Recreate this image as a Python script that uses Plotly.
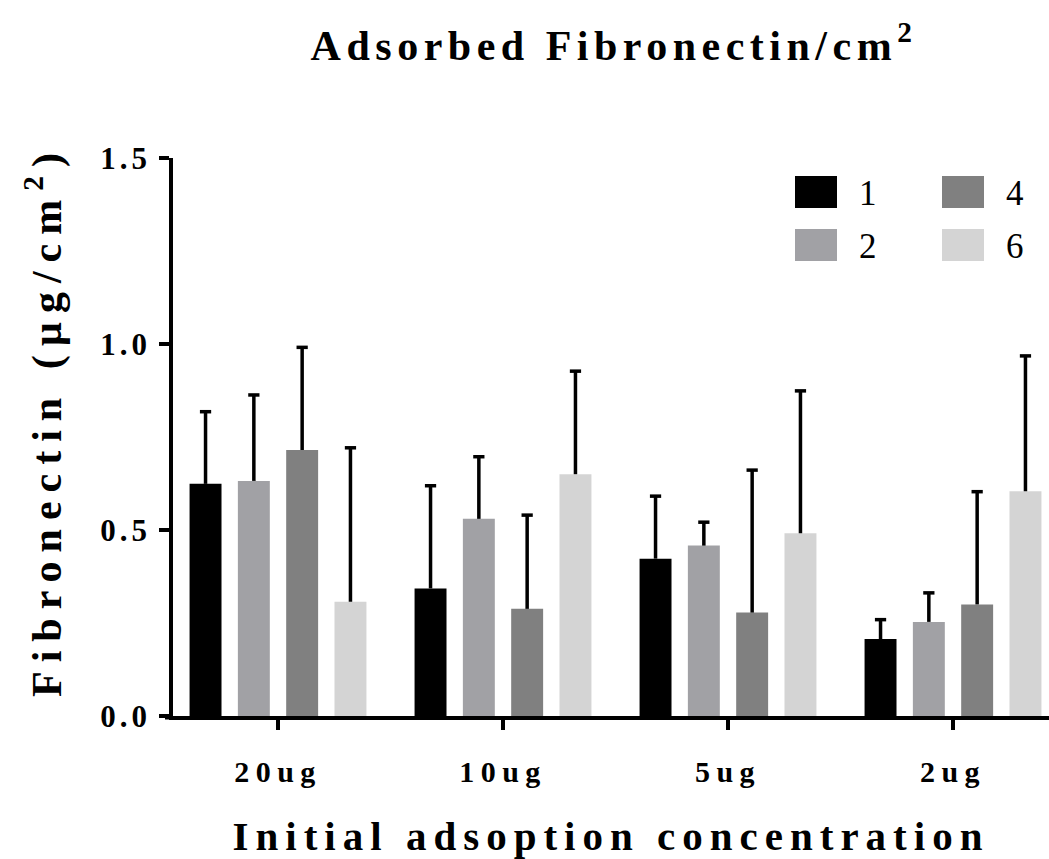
import plotly.graph_objects as go

# ---- data -------------------------------------------------------------
categories = ["20ug", "10ug", "5ug", "2ug"]
series_names = ["1", "2", "4", "6"]

mean_1 = [0.624, 0.343, 0.423, 0.207]
mean_2 = [0.632, 0.530, 0.458, 0.253]
mean_4 = [0.715, 0.288, 0.278, 0.300]
mean_6 = [0.307, 0.650, 0.491, 0.604]

sd_1 = [0.194, 0.276, 0.168, 0.052]
sd_2 = [0.231, 0.167, 0.063, 0.078]
sd_4 = [0.276, 0.252, 0.383, 0.303]
sd_6 = [0.414, 0.277, 0.383, 0.364]

y_ticks = [0.0, 0.5, 1.0, 1.5]

# ---- styling ----------------------------------------------------------
colors = ["#000000", "#a1a1a5", "#808080", "#d4d4d4"]
means = [mean_1, mean_2, mean_4, mean_6]
sds = [sd_1, sd_2, sd_4, sd_6]

W, H = 1049, 859
ML, MR, MT, MB = 173, 0, 158, 143
PW, PH = W - ML - MR, H - MT - MB

FONT = "'Liberation Serif', 'Times New Roman', Tinos, 'DejaVu Serif', serif"
bar_step = 0.2147      # distance between neighbouring bars in a group
bar_width = 0.142
cap_half = 0.025
err_lw = 3.5

x_idx = list(range(len(categories)))

fig = go.Figure()

for i, (name, m, s, c) in enumerate(zip(series_names, means, sds, colors)):
    shift = (i - 1.5) * bar_step
    fig.add_trace(go.Bar(
        x=x_idx, y=m, name=name,
        width=bar_width, offset=shift - bar_width / 2,
        marker=dict(color=c, line=dict(width=0)),
        showlegend=False,
    ))

# one-sided (upper) SD whiskers
for i, (m, s) in enumerate(zip(means, sds)):
    shift = (i - 1.5) * bar_step
    xs, ys = [], []
    for j, (v, e) in enumerate(zip(m, s)):
        xc = x_idx[j] + shift
        xs += [xc, xc, None, xc - cap_half, xc + cap_half, None]
        ys += [v, v + e, None, v + e, v + e, None]
    fig.add_trace(go.Scatter(
        x=xs, y=ys, mode="lines",
        line=dict(color="black", width=err_lw),
        hoverinfo="skip", showlegend=False,
    ))


def px2x(px):
    return (px - ML) / PW


def py2y(py):
    return (H - MB - py) / PH


shapes = [
    # short stub of the x axis left of the y axis
    dict(type="line", xref="paper", yref="paper",
         x0=px2x(165), x1=0, y0=py2y(717.75), y1=py2y(717.75),
         line=dict(color="black", width=err_lw)),
]
annotations = []

# legend drawn as swatches and labels in a 2x2 block
leg_cols = [795, 942]
leg_rows = [176, 229]
sw_w, sw_h = 42, 32
for k, (name, c) in enumerate(zip(series_names, colors)):
    col, row = k // 2, k % 2
    x0 = leg_cols[col]
    y0 = leg_rows[row]
    shapes.append(dict(type="rect", xref="paper", yref="paper",
                       x0=px2x(x0), x1=px2x(x0 + sw_w),
                       y0=py2y(y0 + sw_h), y1=py2y(y0),
                       fillcolor=c, line=dict(width=0)))
    annotations.append(dict(xref="paper", yref="paper",
                            x=px2x(x0 + sw_w + 20), y=py2y(y0 + sw_h / 2 + 1),
                            text=name, showarrow=False,
                            xanchor="left", yanchor="middle",
                            font=dict(family=FONT, size=35, color="black")))

# y-axis title (annotation index 4)
annotations.append(dict(xref="paper", yref="paper",
                        x=px2x(44), y=py2y(421),
                        text="Fibronectin (µg/cm<sup>2</sup>)",
                        textangle=-90, showarrow=False,
                        xanchor="center", yanchor="middle",
                        font=dict(family=FONT, size=42, weight="bold",
                                  color="black")))

fig.update_layout(
    width=W, height=H,
    margin=dict(l=ML, r=MR, t=MT, b=MB, pad=0),
    paper_bgcolor="white", plot_bgcolor="white",
    barmode="overlay",
    font=dict(family=FONT, color="black"),
    title=dict(
        text="Adsorbed Fibronectin/cm<sup>2</sup>",
        x=614 / W, xref="container", xanchor="center",
        y=1 - 45 / H, yref="container", yanchor="middle",
        font=dict(family=FONT, size=42, weight="bold", color="black"),
    ),
    shapes=shapes,
    annotations=annotations,
)

fig.update_xaxes(
    range=[(ML - 278) / 225, (W - 278) / 225],
    tickvals=x_idx, ticktext=categories,
    showline=True, linecolor="black", linewidth=err_lw,
    ticks="outside", ticklen=10, tickwidth=err_lw, tickcolor="black",
    showgrid=False, zeroline=False,
    tickfont=dict(family=FONT, size=30, weight="bold", color="black"),
    ticklabelstandoff=16,
    title=dict(text="Initial adsoption concentration", standoff=40,
               font=dict(family=FONT, size=41, weight="bold", color="black")),
)

fig.update_yaxes(
    range=[0, 1.5],
    tickvals=y_ticks, tickformat=".1f",
    showline=True, linecolor="black", linewidth=err_lw,
    ticks="outside", ticklen=10, tickwidth=err_lw, tickcolor="black",
    showgrid=False, zeroline=False,
    tickfont=dict(family=FONT, size=31, weight="bold", color="black"),
    ticklabelstandoff=2,
)

# wide letter spacing for the bold labels
css = (".gtitle{letter-spacing:5.5px}"
       ".xtitle{letter-spacing:7px}"
       ".annotation[data-index=\"4\"] text{letter-spacing:9px}"
       ".xtick text{letter-spacing:6.5px}"
       ".ytick text{letter-spacing:4px}")
post = ("var st=document.createElement('style');st.textContent='" + css +
        "';document.head.appendChild(st);")

fig.write_html("out.html", post_script=post)
